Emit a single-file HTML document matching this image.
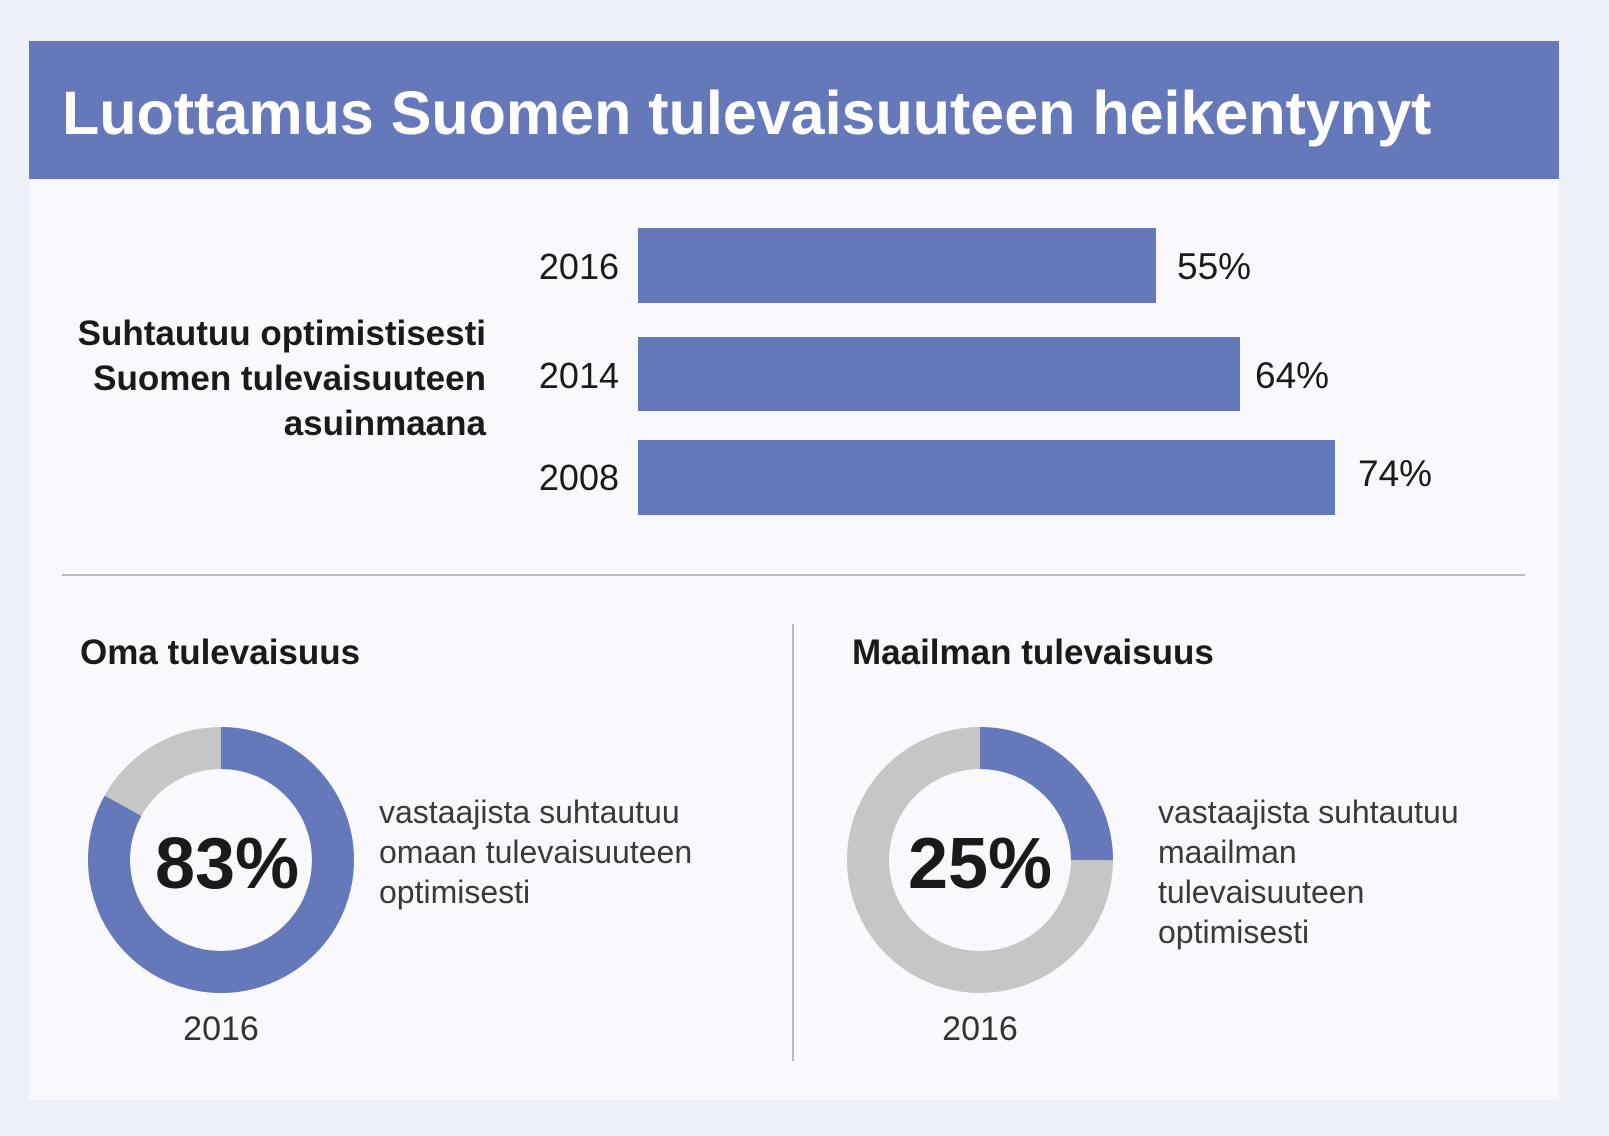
<!DOCTYPE html>
<html><head><meta charset="utf-8"><style>
body{margin:0;width:1609px;height:1136px;background:#edf0f8;font-family:"Liberation Sans",sans-serif;overflow:hidden;position:relative}
.a{position:absolute;white-space:nowrap}
</style></head><body>
<div class="a" style="left:29px;top:179px;width:1530px;height:921px;background:#f9f9fd"></div>
<div class="a" style="left:29px;top:41px;width:1530px;height:138px;background:#6578b9"></div>
<div class="a" style="left:62px;top:78px;font-size:61px;font-weight:bold;color:#fff;line-height:70px">Luottamus Suomen tulevaisuuteen heikentynyt</div>

<div class="a" style="left:638px;top:228px;width:518px;height:75px;background:#6578b9"></div>
<div class="a" style="left:638px;top:337px;width:602px;height:74px;background:#6578b9"></div>
<div class="a" style="left:638px;top:440px;width:697px;height:75px;background:#6578b9"></div>
<div class="a" style="right:990px;top:246px;font-size:36px;color:#1a1a1a">2016</div>
<div class="a" style="right:990px;top:355px;font-size:36px;color:#1a1a1a">2014</div>
<div class="a" style="right:990px;top:457px;font-size:36px;color:#1a1a1a">2008</div>
<div class="a" style="left:1177px;top:246px;font-size:37px;color:#1a1a1a">55%</div>
<div class="a" style="left:1255px;top:355px;font-size:37px;color:#1a1a1a">64%</div>
<div class="a" style="left:1358px;top:453px;font-size:37px;color:#1a1a1a">74%</div>
<div class="a" style="right:1123px;top:311px;font-size:35px;font-weight:bold;color:#1a1a1a;text-align:right;line-height:45px">Suhtautuu optimistisesti<br>Suomen tulevaisuuteen<br>asuinmaana</div>

<div class="a" style="left:62px;top:574px;width:1463px;height:2px;background:#bbb"></div>
<div class="a" style="left:792px;top:624px;width:2px;height:437px;background:#bbb"></div>

<div class="a" style="left:80px;top:633px;font-size:35px;font-weight:bold;color:#1a1a1a">Oma tulevaisuus</div>
<div class="a" style="left:852px;top:633px;font-size:35px;font-weight:bold;color:#1a1a1a">Maailman tulevaisuus</div>

<svg class="a" style="left:0;top:0" width="1609" height="1136">
<circle cx="221" cy="860" r="112" fill="none" stroke="#c6c6c6" stroke-width="42"/>
<circle cx="221" cy="860" r="112" fill="none" stroke="#6578b9" stroke-width="42" stroke-dasharray="584.1 800" transform="rotate(-90 221 860)"/>
<circle cx="980" cy="860" r="112" fill="none" stroke="#c6c6c6" stroke-width="42"/>
<circle cx="980" cy="860" r="112" fill="none" stroke="#6578b9" stroke-width="42" stroke-dasharray="175.9 800" transform="rotate(-90 980 860)"/>
<text x="227" y="888" font-size="72" font-weight="bold" text-anchor="middle" fill="#1a1a1a" font-family="Liberation Sans,sans-serif">83%</text>
<text x="980" y="888" font-size="72" font-weight="bold" text-anchor="middle" fill="#1a1a1a" font-family="Liberation Sans,sans-serif">25%</text>
<text x="221" y="1040" font-size="34" text-anchor="middle" fill="#333" font-family="Liberation Sans,sans-serif">2016</text>
<text x="980" y="1040" font-size="34" text-anchor="middle" fill="#333" font-family="Liberation Sans,sans-serif">2016</text>
</svg>

<div class="a" style="left:379px;top:792px;font-size:32px;color:#3a3a3a;line-height:40px">vastaajista suhtautuu<br>omaan tulevaisuuteen<br>optimisesti</div>
<div class="a" style="left:1158px;top:792px;font-size:32px;color:#3a3a3a;line-height:40px">vastaajista suhtautuu<br>maailman<br>tulevaisuuteen<br>optimisesti</div>
</body></html>
